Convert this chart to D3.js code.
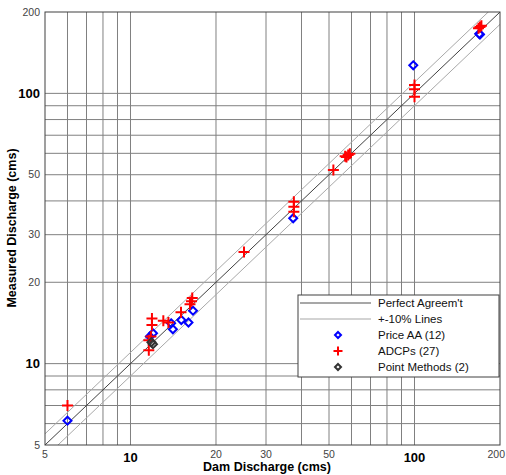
<!DOCTYPE html>
<html>
  <head>
    <style>
      html, body {
        padding: 0;
        margin: 0;
        overflow: hidden;
        background: #ffffff;
      }
      svg {
        font-family: "Liberation Sans", Arial, sans-serif;
      }
      .grid {
        stroke: #808080;
        stroke-width: 1;
      }
    </style>
  </head>
  <body>
    <div id="chart"></div>
    <script src="https://cdnjs.cloudflare.com/ajax/libs/d3/7.8.5/d3.min.js"></script>
    <script>
      // [dam discharge, measured discharge] in cms
      const priceAA = [
        [6.0, 6.15], [11.7, 12.6], [12.0, 12.95], [13.9, 14.1], [14.1, 13.4],
        [15.1, 14.5], [16.0, 14.2], [16.6, 15.7], [37.4, 34.5], [99, 127],
        [170, 165], [169, 166]
      ]
      const adcps = [
        [6.0, 7.0],
        [11.9, 14.7], [11.9, 13.9], [11.6, 12.2], [11.6, 11.2], [11.8, 12.6],
        [13.05, 14.4], [13.6, 14.2],
        [15.06, 15.5],
        [16.2, 16.6], [16.5, 17.5], [16.4, 17.0],
        [25.1, 25.9],
        [37.6, 39.7], [37.6, 38.1], [37.6, 36.5],
        [51.8, 52.0],
        [57.0, 58.5], [57.6, 58.2], [58.4, 59.1], [59.2, 59.8],
        [100, 107.3], [100, 103.5], [100, 97.2],
        [170, 176], [168, 174], [172, 178]
      ]
      const pointMethods = [[11.85, 12.0], [12.0, 11.8]]

      const gridValues = [6, 7, 8, 9, 10, 20, 30, 40, 50, 60, 70, 80, 90, 100]
      const tickLabels = [5, 10, 20, 30, 50, 100, 200]
      const bigTicks = [10, 100]
      const legendItems = ['Perfect Agreem\'t', '+-10% Lines', 'Price AA (12)', 'ADCPs (27)', 'Point Methods (2)']

      let width = 506
      let height = 475
      let blue = '#0000ff'
      let red = '#ff0000'
      let dark = '#333333'

      let x = d3.scaleLog().domain([5, 200]).range([45, 500])
      let y = d3.scaleLog().domain([5, 200]).range([445, 12])

      let svg = d3.select('#chart').append('svg')
        .attr('width', width)
        .attr('height', height)

      // grid
      svg.selectAll('.vgrid').data(gridValues).enter().append('line')
        .attr('class', 'grid')
        .attr('x1', d => x(d)).attr('x2', d => x(d))
        .attr('y1', y(5)).attr('y2', y(200))
      svg.selectAll('.hgrid').data(gridValues).enter().append('line')
        .attr('class', 'grid')
        .attr('y1', d => y(d)).attr('y2', d => y(d))
        .attr('x1', x(5)).attr('x2', x(200))

      // reference lines
      let clipId = 'plotclip'
      svg.append('clipPath').attr('id', clipId).append('rect')
        .attr('x', x(5)).attr('y', y(200))
        .attr('width', x(200) - x(5)).attr('height', y(5) - y(200))
      let refs = svg.append('g').attr('clip-path', 'url(#' + clipId + ')')
      ;[[1.1, '#a8a8a8'], [0.9, '#a8a8a8'], [1, '#404040']].forEach(([k, c]) => {
        refs.append('line')
          .attr('x1', x(5)).attr('y1', y(5 * k))
          .attr('x2', x(200)).attr('y2', y(200 * k))
          .attr('stroke', c).attr('stroke-width', 1)
      })

      // frame
      svg.append('rect')
        .attr('x', x(5)).attr('y', y(200))
        .attr('width', x(200) - x(5)).attr('height', y(5) - y(200))
        .attr('fill', 'none').attr('stroke', '#404040')

      // tick labels
      svg.selectAll('.xlab').data(tickLabels).enter().append('text')
        .attr('x', d => d === 200 ? 505 : x(d))
        .attr('y', d => bigTicks.includes(d) ? 462 : 458)
        .attr('text-anchor', d => d === 200 ? 'end' : 'middle')
        .attr('font-size', d => bigTicks.includes(d) ? 13 : 10.5)
        .attr('font-weight', d => bigTicks.includes(d) ? 'bold' : 'normal')
        .attr('fill', d => bigTicks.includes(d) ? '#000' : '#444')
        .text(d => d)
      svg.selectAll('.ylab').data(tickLabels).enter().append('text')
        .attr('x', 40)
        .attr('y', d => y(d))
        .attr('dy', '0.35em')
        .attr('text-anchor', 'end')
        .attr('font-size', d => bigTicks.includes(d) ? 13 : 10.5)
        .attr('font-weight', d => bigTicks.includes(d) ? 'bold' : 'normal')
        .attr('fill', d => bigTicks.includes(d) ? '#000' : '#444')
        .text(d => d)

      // axis titles
      svg.append('text')
        .attr('x', 267).attr('y', 471)
        .attr('text-anchor', 'middle')
        .attr('font-size', 12.5).attr('font-weight', 'bold')
        .text('Dam Discharge (cms)')
      svg.append('text')
        .attr('transform', 'translate(16,' + 228 + ') rotate(-90)')
        .attr('text-anchor', 'middle')
        .attr('font-size', 12.5).attr('font-weight', 'bold')
        .text('Measured Discharge (cms)')

      function diamond(g, r, color) {
        g.append('path')
          .attr('d', `M0,${-r}L${r},0L0,${r}L${-r},0Z`)
          .attr('fill', 'none').attr('stroke', color).attr('stroke-width', 2)
      }
      function cross(g, r, color) {
        g.append('path')
          .attr('d', `M${-r},0H${r}M0,${-r}V${r}`)
          .attr('stroke', color).attr('stroke-width', 2)
      }

      // points
      svg.selectAll('.pa').data(priceAA).enter().append('g')
        .attr('transform', d => `translate(${x(d[0])},${y(d[1])})`)
        .each(function () { diamond(d3.select(this), 4, blue) })
      svg.selectAll('.adcp').data(adcps).enter().append('g')
        .attr('transform', d => `translate(${x(d[0])},${y(d[1])})`)
        .each(function () { cross(d3.select(this), 5.5, red) })
      svg.selectAll('.pm').data(pointMethods).enter().append('g')
        .attr('transform', d => `translate(${x(d[0])},${y(d[1])})`)
        .each(function () { diamond(d3.select(this), 4, dark) })

      // legend
      let lg = svg.append('g').attr('transform', 'translate(298,295)')
      lg.append('rect').attr('width', 201).attr('height', 82)
        .attr('fill', '#fff').attr('stroke', '#404040')
      legendItems.forEach((t, i) => {
        let cy = 8 + i * 16
        let row = lg.append('g').attr('transform', `translate(0,${cy})`)
        if (i === 0 || i === 1) {
          row.append('line').attr('x1', 2).attr('x2', 73)
            .attr('stroke', i === 0 ? '#505050' : '#a8a8a8').attr('stroke-width', 1.2)
        } else {
          let m = row.append('g').attr('transform', 'translate(40,0)')
          if (i === 2) diamond(m, 3, blue)
          if (i === 3) cross(m, 4.5, red)
          if (i === 4) diamond(m, 3, dark)
        }
        row.append('text').attr('x', 80).attr('dy', '0.35em')
          .attr('font-size', 11.5).attr('fill', '#111')
          .text(t)
      })
    </script>
  </body>
</html>
